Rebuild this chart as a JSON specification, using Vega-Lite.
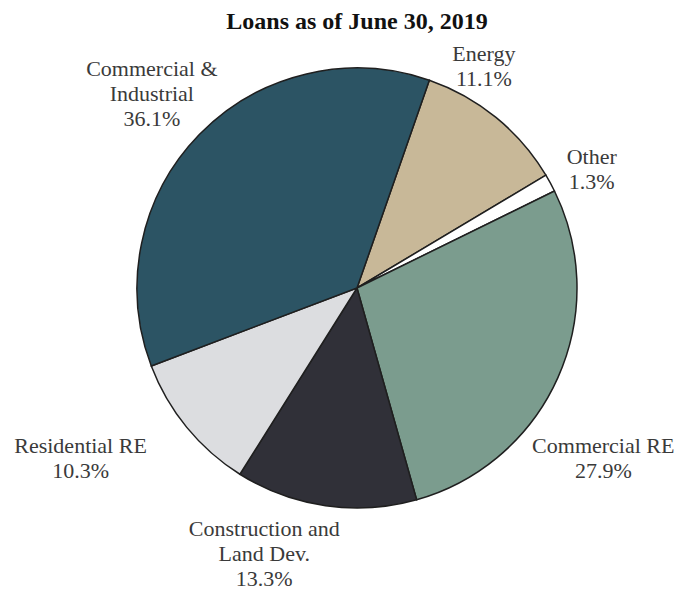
{
  "$schema": "https://vega.github.io/schema/vega-lite/v6.json",
  "autosize": {"type": "none"},
  "width": 642,
  "height": 480,
  "padding": {"left": 36, "top": 48, "right": 0, "bottom": 62},
  "background": "white",
  "title": {
    "text": "Loans as of June 30, 2019",
    "font": "Liberation Serif",
    "fontSize": 24,
    "fontWeight": "bold",
    "color": "#111111",
    "anchor": "middle",
    "offset": 4
  },
  "config": {"view": {"stroke": null}},
  "data": {
    "values": [
      {"category": "Energy", "share": 11.1, "ord": 1, "label": "Energy\n11.1%"},
      {"category": "Other", "share": 1.3, "ord": 2, "label": "Other\n1.3%"},
      {"category": "Commercial RE", "share": 27.9, "ord": 3, "label": "Commercial RE\n27.9%"},
      {"category": "Construction and Land Dev.", "share": 13.3, "ord": 4, "label": "Construction and\nLand Dev.\n13.3%"},
      {"category": "Residential RE", "share": 10.3, "ord": 5, "label": "Residential RE\n10.3%"},
      {"category": "Commercial & Industrial", "share": 36.1, "ord": 6, "label": "Commercial &\nIndustrial\n36.1%"}
    ]
  },
  "encoding": {
    "theta": {"field": "share", "type": "quantitative", "stack": true, "scale": {"range": [0.335, 6.6182]}},
    "order": {"field": "ord", "type": "quantitative"}
  },
  "layer": [
    {
      "mark": {"type": "arc", "outerRadius": 220, "stroke": "#1f1f1f", "strokeWidth": 1.5},
      "encoding": {
        "color": {
          "field": "category",
          "type": "nominal",
          "legend": null,
          "scale": {
            "domain": ["Energy", "Other", "Commercial RE", "Construction and Land Dev.", "Residential RE", "Commercial & Industrial"],
            "range": ["#c8b898", "#ffffff", "#7b9c8e", "#303038", "#dcdde0", "#2c5464"]
          }
        }
      }
    },
    {
      "mark": {"type": "text", "radius": 250, "dx": -31, "dy": -40, "font": "Liberation Serif", "fontSize": 22, "lineHeight": 25, "lineBreak": "\n", "color": "#3a3a3a", "align": "center", "baseline": "middle"},
      "encoding": {"text": {"condition": {"test": "datum.category === 'Energy'", "field": "label"}, "value": ""}}
    },
    {
      "mark": {"type": "text", "radius": 250, "dx": 15, "dy": -12, "font": "Liberation Serif", "fontSize": 22, "lineHeight": 25, "lineBreak": "\n", "color": "#3a3a3a", "align": "center", "baseline": "middle"},
      "encoding": {"text": {"condition": {"test": "datum.category === 'Other'", "field": "label"}, "value": ""}}
    },
    {
      "mark": {"type": "text", "radius": 250, "dx": 18, "dy": 56, "font": "Liberation Serif", "fontSize": 22, "lineHeight": 25, "lineBreak": "\n", "color": "#3a3a3a", "align": "center", "baseline": "middle"},
      "encoding": {"text": {"condition": {"test": "datum.category === 'Commercial RE'", "field": "label"}, "value": ""}}
    },
    {
      "mark": {"type": "text", "radius": 250, "dx": -57, "dy": -6, "font": "Liberation Serif", "fontSize": 22, "lineHeight": 25, "lineBreak": "\n", "color": "#3a3a3a", "align": "center", "baseline": "middle"},
      "encoding": {"text": {"condition": {"test": "datum.category === 'Construction and Land Dev.'", "field": "label"}, "value": ""}}
    },
    {
      "mark": {"type": "text", "radius": 250, "dx": -83, "dy": 0, "font": "Liberation Serif", "fontSize": 22, "lineHeight": 25, "lineBreak": "\n", "color": "#3a3a3a", "align": "center", "baseline": "middle"},
      "encoding": {"text": {"condition": {"test": "datum.category === 'Residential RE'", "field": "label"}, "value": ""}}
    },
    {
      "mark": {"type": "text", "radius": 250, "dx": -26, "dy": -45, "font": "Liberation Serif", "fontSize": 22, "lineHeight": 25, "lineBreak": "\n", "color": "#3a3a3a", "align": "center", "baseline": "middle"},
      "encoding": {"text": {"condition": {"test": "datum.category === 'Commercial & Industrial'", "field": "label"}, "value": ""}}
    }
  ]
}
